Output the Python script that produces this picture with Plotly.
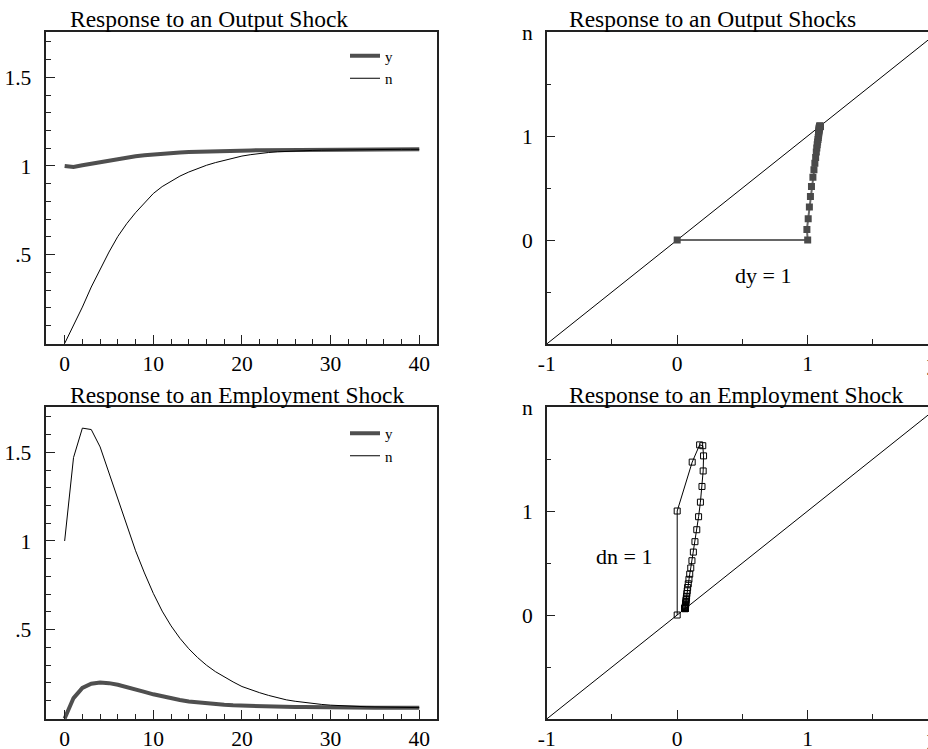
import plotly.graph_objects as go

# Impulse responses over 40 periods
periods = list(range(41))

output_shock_y = [1.000, 0.994, 1.004, 1.013, 1.021, 1.029, 1.040, 1.048, 1.055, 1.061,
                  1.066, 1.070, 1.073, 1.076, 1.079, 1.081, 1.083, 1.084, 1.085, 1.086,
                  1.087, 1.088, 1.089, 1.089, 1.090, 1.090, 1.091, 1.091, 1.092, 1.092,
                  1.092, 1.093, 1.093, 1.093, 1.093, 1.094, 1.094, 1.094, 1.094, 1.094,
                  1.094]
output_shock_n = [0.000, 0.102, 0.205, 0.318, 0.418, 0.515, 0.603, 0.675, 0.737, 0.793,
                  0.845, 0.884, 0.916, 0.943, 0.966, 0.986, 1.004, 1.019, 1.032, 1.045,
                  1.056, 1.064, 1.071, 1.076, 1.080, 1.083, 1.085, 1.087, 1.088, 1.089,
                  1.090, 1.091, 1.091, 1.092, 1.092, 1.093, 1.093, 1.093, 1.094, 1.094,
                  1.094]

employment_shock_y = [0.000, 0.115, 0.172, 0.196, 0.202, 0.199, 0.190, 0.178, 0.164, 0.150,
                      0.136, 0.124, 0.113, 0.104, 0.096, 0.090, 0.085, 0.080, 0.077, 0.074,
                      0.072, 0.070, 0.068, 0.067, 0.066, 0.065, 0.064, 0.064, 0.063, 0.063,
                      0.062, 0.062, 0.062, 0.061, 0.061, 0.061, 0.061, 0.061, 0.060, 0.060,
                      0.060]
employment_shock_n = [1.000, 1.470, 1.636, 1.628, 1.530, 1.385, 1.236, 1.085, 0.945, 0.820,
                      0.705, 0.605, 0.522, 0.452, 0.393, 0.343, 0.300, 0.264, 0.233, 0.206,
                      0.180, 0.161, 0.145, 0.130, 0.116, 0.105, 0.097, 0.090, 0.084, 0.079,
                      0.075, 0.072, 0.069, 0.067, 0.066, 0.065, 0.064, 0.063, 0.062, 0.062,
                      0.061]

# Pre-shock starting point of the phase paths and the 45-degree line
pre_shock = [0.0]
diagonal = [-1.0, 2.0]

titles = ["Response to an Output Shock", "Response to an Output Shocks",
          "Response to an Employment Shock", "Response to an Employment Shock"]

FONT = "Liberation Serif"
AX_COLOR = "#222222"
THICK = "#4f4f4f"

fig = go.Figure()

# Time paths (left column)
for shock_y, shock_n, xa, ya, lg in [
    (output_shock_y, output_shock_n, "x", "y", "legend"),
    (employment_shock_y, employment_shock_n, "x3", "y3", "legend2"),
]:
    fig.add_trace(go.Scatter(x=periods, y=shock_y, mode="lines", name="y",
                             line=dict(color=THICK, width=4), xaxis=xa, yaxis=ya, legend=lg))
    fig.add_trace(go.Scatter(x=periods, y=shock_n, mode="lines", name="n",
                             line=dict(color="black", width=1), xaxis=xa, yaxis=ya, legend=lg))

# Phase diagrams (right column)
fig.add_trace(go.Scatter(x=diagonal, y=diagonal, mode="lines", showlegend=False,
                         line=dict(color="black", width=1), xaxis="x2", yaxis="y2"))
fig.add_trace(go.Scatter(x=pre_shock + output_shock_y, y=pre_shock + output_shock_n,
                         mode="lines+markers", showlegend=False,
                         line=dict(color="#666666", width=2),
                         marker=dict(symbol="square", size=7, color="#4a4a4a",
                                     line=dict(width=0)),
                         xaxis="x2", yaxis="y2"))
fig.add_trace(go.Scatter(x=diagonal, y=diagonal, mode="lines", showlegend=False,
                         line=dict(color="black", width=1), xaxis="x4", yaxis="y4"))
fig.add_trace(go.Scatter(x=pre_shock + employment_shock_y, y=pre_shock + employment_shock_n,
                         mode="lines+markers", showlegend=False,
                         line=dict(color="black", width=1),
                         marker=dict(symbol="square-open", size=6, color="black",
                                     line=dict(width=1)),
                         xaxis="x4", yaxis="y4"))

tickfont = dict(family=FONT, size=21.5, color="black")
common = dict(showline=True, linecolor=AX_COLOR, linewidth=1.5, ticks="inside",
              ticklen=9, tickwidth=1, tickcolor=AX_COLOR, showgrid=False,
              zeroline=False, tickfont=tickfont, automargin=False)

left_x_dom = [46.3 / 928, 437 / 928]
right_x_dom = [546.7 / 928, 1.0]
top_y_dom = [(749 - 344) / 749, (749 - 32) / 749]
bot_y_dom = [(749 - 719) / 749, (749 - 407) / 749]


def left_x(dom_anchor):
    return dict(common, domain=left_x_dom, anchor=dom_anchor, range=[-2.07, 42.0],
                tickmode="linear", tick0=0, dtick=10, mirror=True,
                minor=dict(ticks="inside", ticklen=5, tickcolor=AX_COLOR, tick0=0, dtick=2),
                ticklabelstandoff=-1)


def left_y(dom, anchor):
    return dict(common, domain=dom, anchor=anchor, range=[-0.003, 1.755],
                tickmode="linear", tick0=0, dtick=0.5, mirror=True,
                labelalias={"0": "", "0.5": ".5"},
                minor=dict(ticks="inside", ticklen=5, tickcolor=AX_COLOR, tick0=0, dtick=0.1),
                ticklabelstandoff=9)


def right_x(anchor):
    return dict(common, domain=right_x_dom, anchor=anchor, range=[-1.0, 1.922],
                tickmode="linear", tick0=-1, dtick=1, mirror=True,
                labelalias={"\u22121": "-1"},
                minor=dict(ticks="inside", ticklen=5, tickcolor=AX_COLOR, tick0=-1, dtick=0.5),
                ticklabelstandoff=-1)


def right_y(dom, anchor):
    return dict(common, domain=dom, anchor=anchor, range=[-1.0, 2.0],
                tickmode="linear", tick0=-1, dtick=1, mirror=False,
                labelalias={"\u22121": "", "2": "n"},
                minor=dict(ticks="inside", ticklen=5, tickcolor=AX_COLOR, tick0=-1, dtick=0.5),
                ticklabelstandoff=8)


legend_style = dict(xanchor="left", yanchor="top", bgcolor="rgba(0,0,0,0)",
                    borderwidth=0, font=dict(family=FONT, size=15, color="black"),
                    tracegroupgap=0)

annotations = []
title_pos = [(68 / 928, (749 - 19.5) / 749), (567 / 928, (749 - 19.5) / 749),
             (68 / 928, (749 - 394.5) / 749), (567 / 928, (749 - 394.5) / 749)]
for text, (ax_, ay_) in zip(titles, title_pos):
    annotations.append(dict(text=text, x=ax_, y=ay_, xref="paper", yref="paper",
                            xanchor="left", yanchor="middle", showarrow=False,
                            font=dict(family=FONT, size=23.5, color="black")))

annotations.append(dict(text="dy = 1", x=0.66, y=-0.34, xref="x2", yref="y2",
                        showarrow=False, font=dict(family=FONT, size=22, color="black")))
annotations.append(dict(text="dn = 1", x=-0.406, y=0.564, xref="x4", yref="y4",
                        showarrow=False, font=dict(family=FONT, size=22, color="black")))
# Horizontal axis name sitting at the far end of each phase diagram
for ypos in [(749 - 363) / 749, (749 - 738) / 749]:
    annotations.append(dict(text="y", x=933 / 928, y=ypos, xref="paper", yref="paper",
                            xanchor="center", yanchor="middle", showarrow=False,
                            font=tickfont))

fig.update_layout(
    width=928, height=749,
    margin=dict(l=0, r=0, t=0, b=0, autoexpand=False),
    paper_bgcolor="white", plot_bgcolor="white",
    font=dict(family=FONT, color="black"),
    showlegend=True,
    xaxis=left_x("y"), yaxis=left_y(top_y_dom, "x"),
    xaxis2=right_x("y2"), yaxis2=right_y(top_y_dom, "x2"),
    xaxis3=left_x("y3"), yaxis3=left_y(bot_y_dom, "x3"),
    xaxis4=right_x("y4"), yaxis4=right_y(bot_y_dom, "x4"),
    legend=dict(legend_style, x=345 / 928, y=(749 - 39.5) / 749),
    legend2=dict(legend_style, x=345 / 928, y=(749 - 417) / 749),
    annotations=annotations,
)

fig.write_html("out.html",
               post_script="document.body.style.margin='0';document.body.style.overflow='hidden';")
